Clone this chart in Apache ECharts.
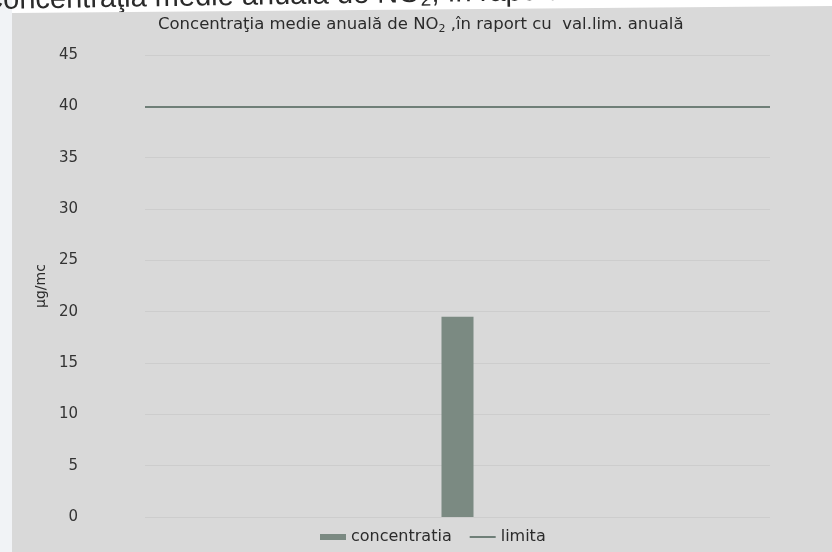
<!DOCTYPE html>
<html>
<head>
<meta charset="utf-8">
<title>Concentraţia medie anuală de NO2</title>
<script src="https://cdn.jsdelivr.net/npm/echarts@6/dist/echarts.min.js"></script>
<style>
  html, body { margin: 0; padding: 0; background: #ffffff; }
  #chart { width: 832px; height: 552px; }
</style>
</head>
<body>
<div id="chart"></div>
<script>
// Annual mean NO2 concentration vs. annual limit value
const categories = ['NO2'];
const concentratia = [19.5];
const limita = [40];
const yTicks = { min: 0, max: 45, interval: 5 };

const FONT = '"DejaVu Sans", Verdana, sans-serif';

const chart = echarts.init(document.getElementById('chart'), null, { renderer: 'canvas' });

const option = {
  backgroundColor: '#ffffff',
  animation: false,
  textStyle: { fontFamily: FONT },
  graphic: [
    // page strip on the left
    { type: 'rect', left: 0, top: 0, z: -20, shape: { width: 12, height: 552 }, style: { fill: '#f1f3f6' } },
    // running heading of the page, mostly hidden behind the chart panel
    {
      type: 'text', x: -18, y: -15, rotation: 0.016, z: -20,
      style: {
        text: 'Concentraţia medie anuală de NO{s|2}, în raport cu val.lim. anuală',
        font: '29px "Liberation Sans", Arial, sans-serif',
        fill: '#2a2a2a',
        rich: { s: { fontSize: 19, fill: '#2a2a2a', padding: [13, 0, 0, 0] } }
      }
    },
    // chart panel
    {
      type: 'polygon', z: -10,
      shape: { points: [[12, 13], [832, 6], [832, 552], [12, 552]] },
      style: { fill: '#d9d9d9' }
    }
  ],
  title: {
    text: 'Concentraţia medie anuală de NO{s|2} ,în raport cu  val.lim. anuală',
    left: 153,
    top: 10,
    textStyle: {
      fontSize: 16.5,
      fontWeight: 'normal',
      color: '#2b2b2b',
      fontFamily: FONT,
      rich: {
        s: { fontSize: 11, color: '#2b2b2b', padding: [9, 0, 0, 0], fontFamily: FONT }
      }
    }
  },
  legend: {
    left: 315,
    bottom: 2,
    itemGap: 18,
    itemWidth: 26,
    itemHeight: 6,
    textStyle: { fontSize: 16, color: '#2b2b2b', fontFamily: FONT },
    data: [
      { name: 'concentratia', icon: 'rect' },
      { name: 'limita', icon: 'path://M0,0 L26,0 L26,2 L0,2 Z', itemStyle: { color: '#6f7f78' } }
    ]
  },
  grid: { left: 145, right: 62, top: 55, bottom: 35 },
  xAxis: {
    type: 'category',
    data: categories,
    boundaryGap: true,
    axisLine: { show: false },
    axisTick: { show: false },
    axisLabel: { show: false },
    splitLine: { show: false }
  },
  yAxis: {
    type: 'value',
    min: yTicks.min,
    max: yTicks.max,
    interval: yTicks.interval,
    name: 'µg/mc',
    nameLocation: 'middle',
    nameGap: 92,
    nameRotate: 90,
    nameTextStyle: { fontSize: 14, color: '#2b2b2b', fontFamily: FONT },
    axisLine: { show: false },
    axisTick: { show: false },
    axisLabel: { margin: 67, fontSize: 15, color: '#333333', fontFamily: FONT },
    splitLine: { show: true, lineStyle: { color: 'rgba(0,0,0,0.05)', width: 1 } }
  },
  series: [
    {
      name: 'concentratia',
      type: 'bar',
      data: concentratia,
      barWidth: 32,
      itemStyle: { color: '#7b8a82' }
    },
    {
      name: 'limita',
      type: 'line',
      data: limita,
      showSymbol: false,
      symbol: 'none',
      lineStyle: { color: '#6f7f78', width: 2 },
      itemStyle: { color: '#6f7f78' },
      markLine: {
        silent: true,
        symbol: ['none', 'none'],
        label: { show: false },
        lineStyle: { color: '#6f7f78', width: 2, type: 'solid' },
        data: [{ yAxis: limita[0] }]
      }
    }
  ]
};

chart.setOption(option);
</script>
</body>
</html>
